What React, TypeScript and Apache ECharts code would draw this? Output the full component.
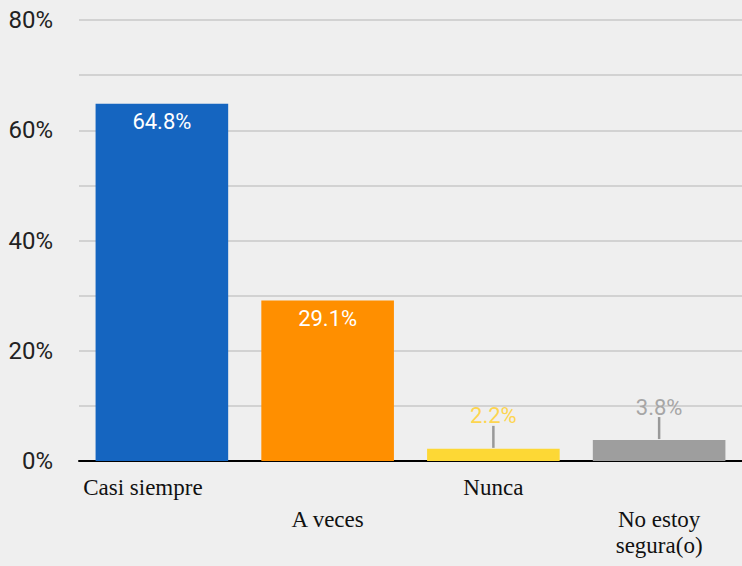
import React, { useEffect, useRef } from "react";
import * as echarts from "echarts";

const categories = ["Casi siempre", "A veces", "Nunca", "No estoy\nsegura(o)"];
const values = [64.8, 29.1, 2.2, 3.8];
const barColors = ["#1565c0", "#ff8f00", "#fdd835", "#9e9e9e"];
const labelInside = [true, true, false, false];
const outsideLabelColors = ["#ffffff", "#ffffff", "#fdd54f", "#a6a6a6"];
const yTicks = [0, 10, 20, 30, 40, 50, 60, 70, 80];

export default function App() {
  const ref = useRef<HTMLDivElement>(null);
  useEffect(() => {
    if (!ref.current) return;
    const chart = echarts.init(ref.current, undefined, { renderer: "svg" });
    const xData = categories.map((c, i) => ({
      value: c,
      textStyle:
        i === 0
          ? { padding: [0, 38, 0, 0] }
          : i % 2 === 1
          ? { padding: [32, 0, 0, 0] }
          : {},
    }));
    chart.setOption({
      animation: false,
      backgroundColor: "#efefef",
      grid: { left: 79, right: 0, top: 20, bottom: 105, containLabel: false },
      xAxis: {
        type: "category",
        data: xData,
        axisLine: { show: true, lineStyle: { color: "#000", width: 2 } },
        axisTick: { show: false },
        axisLabel: {
          interval: 0,
          margin: 13,
          fontFamily: "Liberation Serif",
          fontSize: 23,
          color: "#111",
          lineHeight: 26,
          verticalAlign: "top",
        },
      },
      yAxis: {
        type: "value",
        min: yTicks[0],
        max: yTicks[yTicks.length - 1],
        interval: 10,
        axisLine: { show: false },
        axisTick: { show: false },
        splitLine: { lineStyle: { color: "#d2d2d2", width: 2 } },
        axisLabel: {
          margin: 26,
          fontFamily: "Roboto",
          fontSize: 24,
          color: "#222",
          formatter: (v: number) => (v % 20 === 0 ? v + "%" : ""),
        },
      },
      series: [
        {
          type: "bar",
          barCategoryGap: "20%",
          data: values.map((v, i) => ({
            value: v,
            itemStyle: { color: barColors[i] },
            label: labelInside[i]
              ? {
                  show: true,
                  position: "insideTop",
                  distance: 7,
                  color: "#fff",
                  fontFamily: "Roboto",
                  fontSize: 22,
                  formatter: "{c}%",
                }
              : {
                  show: true,
                  position: "top",
                  distance: 22,
                  color: outsideLabelColors[i],
                  fontFamily: "Roboto",
                  fontSize: 22,
                  formatter: "{c}%",
                },
          })),
        },
        {
          type: "custom",
          data: values.map((v, i) => (labelInside[i] ? null : [i, v])),
          renderItem: (params: any, api: any) => {
            const x = api.value(0);
            const v = api.value(1);
            if (v == null || isNaN(v)) return null;
            const p = api.coord([x, v]);
            return {
              type: "line",
              shape: { x1: p[0], y1: p[1] - 1, x2: p[0], y2: p[1] - 23 },
              style: { stroke: "#999999", lineWidth: 2.5 },
            };
          },
          z: 5,
        },
      ],
    });
    return () => chart.dispose();
  }, []);
  return <div ref={ref} style={{ width: 742, height: 566, position: "absolute", left: 0, top: 0 }} />;
}
